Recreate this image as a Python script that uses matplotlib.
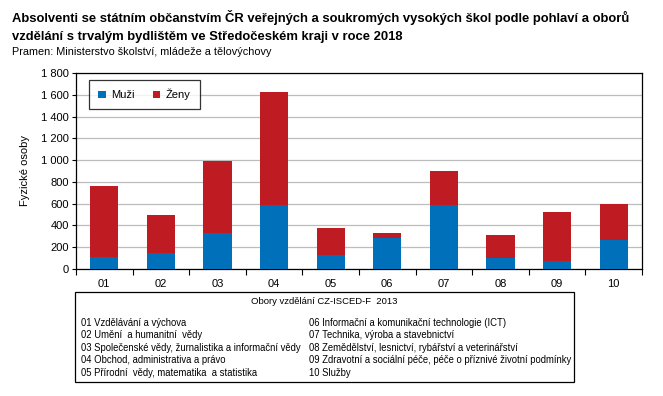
import numpy as np
import matplotlib
matplotlib.use("Agg")
import matplotlib.pyplot as plt
from matplotlib.patches import Rectangle

plt.rcParams['font.family'] = ['Liberation Sans', 'DejaVu Sans']

kody = ['01', '02', '03', '04', '05', '06', '07', '08', '09', '10']
muzi = [113, 144, 334, 585, 132, 288, 591, 104, 77, 269]
celkem = [765, 499, 995, 1628, 380, 334, 903, 315, 527, 600]
zeny = [c - m for c, m in zip(celkem, muzi)]

obory_vlevo = ['01 Vzdělávání a výchova',
               '02 Umění  a humanitní  vědy',
               '03 Společenské vědy, žurnalistika a informační vědy',
               '04 Obchod, administrativa a právo',
               '05 Přírodní  vědy, matematika  a statistika']
obory_vpravo = ['06 Informační a komunikační technologie (ICT)',
                '07 Technika, výroba a stavebnictví',
                '08 Zemědělství, lesnictví, rybářství a veterinářství',
                '09 Zdravotní a sociální péče, péče o příznivé životní podmínky',
                '10 Služby']

modra = '#0070BA'
cervena = '#BE1B23'

W, H = 663, 396
fig = plt.figure(figsize=(W / 100, H / 100), dpi=100)
ax = fig.add_axes([76 / W, 1 - 269 / H, (642 - 76) / W, (269 - 73) / H])

x = np.arange(len(kody))
ax.bar(x, muzi, width=0.5, color=modra, label='Muži', zorder=3)
ax.bar(x, zeny, width=0.5, bottom=muzi, color=cervena, label='Ženy', zorder=3)

ax.set_xlim(-0.5, len(kody) - 0.5)
ax.set_ylim(0, 1800)
ax.set_yticks(np.arange(0, 1801, 200))
ax.set_yticklabels([f'{v:,}'.replace(',', ' ') for v in range(0, 1801, 200)], fontsize=8)
ax.set_xticks(x)
ax.set_xticklabels(kody, fontsize=8)
ax.set_xticks(np.arange(-0.5, len(kody), 1), minor=True)
ax.tick_params(axis='x', which='major', length=0, pad=7)
ax.tick_params(axis='x', which='minor', length=4, direction='out', width=0.8)
ax.tick_params(axis='y', length=3, direction='out', width=0.8, pad=2)
ax.grid(axis='y', color='#BDBDBD', linewidth=0.9, zorder=0)
for s in ax.spines.values():
    s.set_color('black')
    s.set_linewidth(0.9)
ax.set_ylabel('Fyzické osoby', fontsize=8, labelpad=8)

leg = ax.legend(loc='upper left', bbox_to_anchor=(0.023, 0.964), ncol=2, fontsize=8,
                frameon=True, fancybox=False, edgecolor='black', handlelength=0.7,
                handleheight=0.7, columnspacing=1.6, borderpad=0.8, handletextpad=0.5,
                borderaxespad=0)
leg.get_frame().set_linewidth(0.9)

fig.text(12 / W, 1 - 26.5 / H, 'Absolventi se státním občanstvím ČR veřejných a soukromých vysokých škol podle pohlaví a oborů\n'
         'vzdělání s trvalým bydlištěm ve Středočeském kraji v roce 2018',
         fontsize=9.4, fontweight='bold', va='center', linespacing=1.58)
fig.text(12 / W, 1 - 52 / H, 'Pramen: Ministerstvo školství, mládeže a tělovýchovy', fontsize=7.8, va='center')

fig.patches.append(Rectangle((75 / W, 1 - 382 / H), (574 - 75) / W, (382 - 292) / H,
                             transform=fig.transFigure, fill=False, edgecolor='black', linewidth=0.9))
fig.text(324 / W, 1 - 302 / H, 'Obory vzdělání CZ-ISCED-F  2013', fontsize=6.8, ha='center', va='center')
for i, t in enumerate(obory_vlevo):
    fig.text(81 / W, 1 - (323 + 12.4 * i) / H, t, fontsize=6.85, va='center')
for i, t in enumerate(obory_vpravo):
    fig.text(309 / W, 1 - (323 + 12.4 * i) / H, t, fontsize=6.85, va='center')

fig.savefig('out.png', dpi=100)
